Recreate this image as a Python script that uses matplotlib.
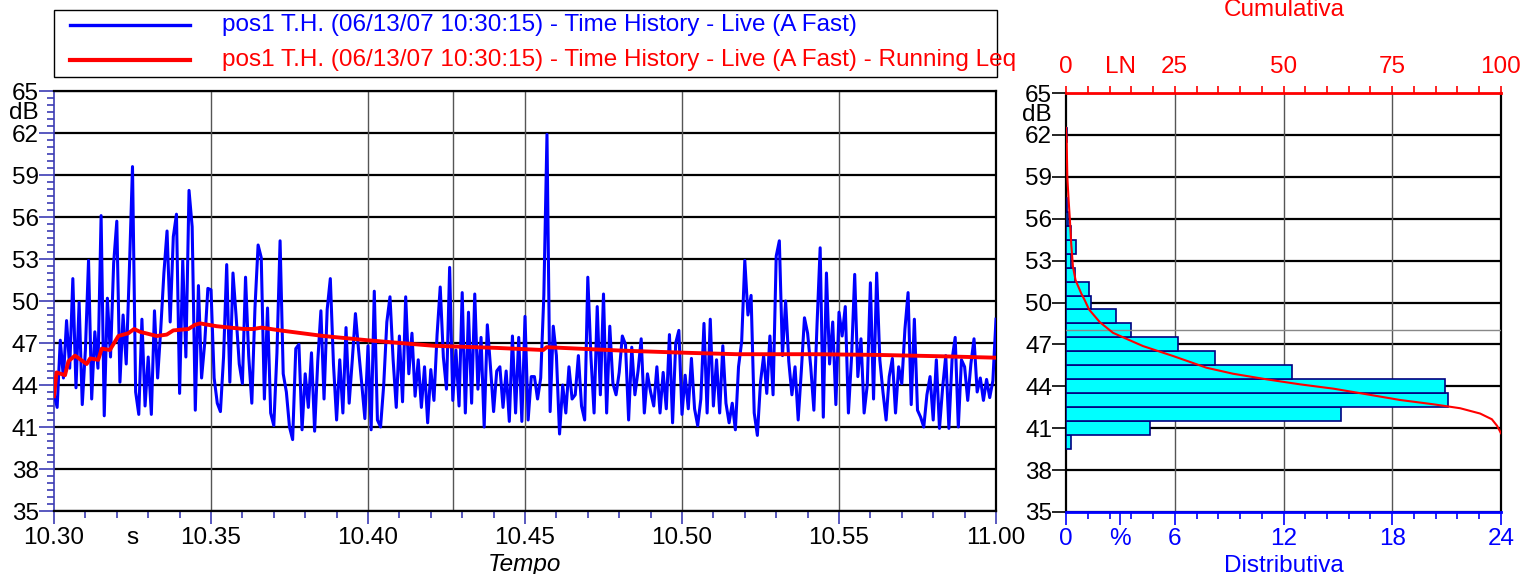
import matplotlib
matplotlib.use('Agg')
import matplotlib.pyplot as plt
from matplotlib.lines import Line2D
from matplotlib.patches import Rectangle
from matplotlib.ticker import MultipleLocator
import numpy as np

plt.rcParams['font.family'] = ['Liberation Sans', 'DejaVu Sans']

# time history (A Fast), one reading every 0.1 s from 10:30 to 11:00
dt = 0.1
level = [
    43.4, 42.4, 47.2, 44.5, 48.6, 45.2, 51.6, 43.8, 49.9, 42.6,
    46.5, 52.9, 43.0, 47.8, 45.2, 56.1, 41.8, 50.2, 46.0, 52.7,
    55.7, 44.2, 49.0, 45.5, 52.2, 59.6, 43.5, 41.9, 48.7, 42.5,
    46.0, 41.9, 49.3, 44.5, 48.0, 52.0, 55.0, 48.5, 54.6, 56.2,
    43.4, 52.9, 46.0, 57.9, 55.3, 42.2, 51.1, 44.5, 47.0, 50.9,
    50.8, 44.5, 42.7, 42.1, 46.0, 52.6, 44.2, 52.0, 48.9, 45.5,
    44.1, 51.7, 46.1, 42.7, 49.5, 54.0, 53.1, 43.0, 49.5, 42.0,
    41.1, 46.3, 54.3, 44.8, 43.5, 41.0, 40.1, 46.6, 46.9, 40.8,
    44.8, 42.4, 46.3, 40.7, 45.7, 49.3, 43.0, 49.4, 51.6, 45.5,
    41.5, 45.8, 42.0, 48.1, 42.7, 45.8, 49.1, 46.5, 44.1, 41.6,
    46.8, 40.8, 50.7, 41.5, 41.0, 44.0, 48.5, 50.3, 45.8, 42.4,
    47.5, 42.8, 50.3, 44.8, 47.7, 43.2, 45.8, 42.4, 45.3, 41.3,
    45.1, 42.9, 47.6, 51.0, 46.0, 43.7, 52.4, 42.9, 46.5, 42.5,
    50.6, 42.0, 49.2, 42.7, 50.5, 43.7, 47.4, 41.0, 48.3, 45.3,
    42.1, 45.0, 45.3, 42.4, 45.0, 41.4, 47.5, 42.0, 47.4, 41.4,
    48.9, 41.5, 44.6, 44.6, 43.0, 44.5, 50.4, 61.9, 42.1, 48.2,
    46.1, 40.5, 44.0, 42.0, 45.3, 43.0, 43.3, 46.1, 42.5, 41.5,
    51.7, 46.0, 42.0, 49.6, 43.3, 50.5, 42.0, 48.2, 44.1, 43.3,
    44.9, 47.5, 46.9, 41.5, 46.7, 43.3, 45.0, 47.3, 42.0, 44.8,
    43.5, 42.5, 45.3, 42.0, 44.9, 42.3, 47.6, 41.3, 47.0, 47.9,
    41.9, 44.7, 42.3, 45.9, 42.3, 41.1, 43.0, 48.4, 42.0, 48.7,
    42.5, 45.8, 42.0, 46.8, 42.7, 41.3, 42.7, 40.8, 45.3, 47.1,
    52.9, 49.0, 50.4, 42.0, 40.4, 44.2, 46.1, 43.4, 47.5, 43.3,
    53.2, 54.3, 46.1, 50.0, 45.7, 43.3, 45.3, 41.5, 45.0, 48.8,
    47.7, 45.3, 42.2, 48.3, 53.8, 41.7, 52.0, 45.5, 48.5, 42.6,
    49.2, 47.5, 49.6, 42.0, 46.0, 51.9, 44.6, 47.3, 42.0, 44.0,
    51.3, 43.0, 52.0, 45.8, 43.5, 41.5, 44.6, 45.9, 42.0, 45.3,
    44.1, 48.0, 50.6, 42.6, 48.7, 42.2, 41.7, 41.0, 43.3, 44.6,
    41.5, 45.8, 40.9, 43.8, 46.1, 40.9, 45.8, 47.4, 41.0, 45.8,
    45.3, 42.9, 45.5, 47.3, 43.5, 44.5, 42.9, 44.4, 43.1, 44.3,
    48.7,
]

# running Leq
leq_t = [0, 0.08, 0.35, 0.46, 0.67, 1.04, 1.15, 1.41, 1.52, 1.78, 2.05, 2.37, 2.55,
         2.74, 3.27, 3.59, 3.8, 4.28, 4.49, 4.65, 5.18, 5.6, 6.05, 6.35, 6.61, 7.2,
         8.58, 9.96, 11.02, 12.1, 14.1, 15.58, 15.69, 18.15, 20.15, 21.74, 24.2,
         26.2, 28.3, 30]
leq_v = [43.2, 44.9, 44.7, 45.7, 46.1, 45.5, 45.9, 45.8, 46.6, 46.5, 47.5, 47.7, 48.0,
         47.8, 47.5, 47.6, 47.9, 48.0, 48.3, 48.4, 48.2, 48.1, 48.0, 48.0, 48.1, 47.9,
         47.5, 47.2, 47.0, 46.8, 46.65, 46.5, 46.7, 46.45, 46.3, 46.2, 46.2,
         46.15, 46.05, 45.95]

# distribution, 1 dB classes (%)
bin_db = [40, 41, 42, 43, 44, 45, 46, 47, 48, 49, 50, 51, 52, 53, 54, 55, 56, 57, 62]
bin_pct = [0.28, 4.66, 15.18, 21.05, 20.89, 12.49, 8.21, 6.19, 3.61, 2.76, 1.36, 1.27,
           0.48, 0.26, 0.55, 0.26, 0.11, 0.07, 0.07]

# cumulative (LN)
cum_pct = [0, 0.15, 0.3, 0.6, 0.9, 1.2, 1.6, 2.2, 3.5, 4.3, 5.3, 7.75, 10.8, 13.9, 17.7,
           24.6, 32.3, 38.4, 46.1, 53.8, 61.5, 69.1, 76.8, 84.5, 90.6, 95.2, 97.9, 99.1, 100]
cum_db = [62.5, 61.65, 59.0, 57.34, 55.9, 54.2, 52.56, 51.6, 50.65, 50.17, 49.5, 48.6,
          47.83, 47.4, 46.88, 46.17, 45.33, 44.9, 44.5, 44.14, 43.83, 43.43, 43.02,
          42.71, 42.43, 42.05, 41.64, 41.17, 40.64]

x_ticks = [0, 2.5, 5, 10, 15, 20, 25, 30]
x_labels = ['10.30', 's', '10.35', '10.40', '10.45', '10.50', '10.55', '11.00']
y_ticks = list(range(35, 66, 3))

W, H = 1537, 574
fig = plt.figure(figsize=(W / 100, H / 100), dpi=100)

def fx(x):
    return x / W

def fy(y):
    return 1 - y / H

tick_blue = '#3c3cb4'
fs = 17.5

# ---- time history
ax = fig.add_axes([fx(54), fy(511), (996 - 54) / W, (511 - 91) / H])
t = np.arange(len(level)) * dt
ax.plot(t, level, color='#0000ff', lw=2.2, zorder=3)
ax.plot(leq_t, leq_v, color='#ff0000', lw=2.8, zorder=4, solid_joinstyle='round')
ax.set_xlim(0, 30)
ax.set_ylim(35, 65)
for v in y_ticks:
    ax.axhline(v, color='black', lw=1.6, zorder=1)
for v in [5, 10, 12.7, 15, 20, 25]:
    ax.axvline(v, color='#555555', lw=1.0, zorder=1)

ax.set_xticks(x_ticks)
ax.set_xticklabels(x_labels)
ax.xaxis.get_major_ticks()[1].tick1line.set_visible(False)
ax.xaxis.set_minor_locator(MultipleLocator(1))
ax.set_yticks(y_ticks)
ax.yaxis.set_minor_locator(MultipleLocator(0.5))
ax.tick_params(axis='x', which='major', length=9.4, width=1.2, color=tick_blue,
               labelsize=fs, pad=2)
ax.tick_params(axis='x', which='minor', length=5, width=1.2, color=tick_blue)
ax.tick_params(axis='y', which='major', length=10.8, width=1.2, color=tick_blue,
               labelsize=fs, pad=0)
ax.tick_params(axis='y', which='minor', length=5, width=1.2, color=tick_blue)
for s in ['top', 'right', 'bottom']:
    ax.spines[s].set_color('black')
    ax.spines[s].set_linewidth(1.6)
ax.spines['left'].set_color(tick_blue)
ax.spines['left'].set_linewidth(1.2)
ax.annotate('dB', xy=(0, 63.45), xycoords=('axes fraction', 'data'), xytext=(-11, 0),
            textcoords='offset points', ha='right', va='center', fontsize=fs)
fig.text(fx(525), fy(565), 'Tempo', ha='center', va='center', fontsize=fs,
         style='italic')

# ---- distribution
ax2 = fig.add_axes([fx(1066), fy(512), (1501 - 1066) / W, (512 - 93) / H])
ax2.barh(bin_db, bin_pct, height=1.0, color='#00ffff', edgecolor='#000080', lw=1.2,
         zorder=3)
ax2.set_xlim(0, 24)
ax2.set_ylim(35, 65)
for v in y_ticks:
    ax2.axhline(v, color='black', lw=1.6, zorder=1)
ax2.axhline(48, color='#888888', lw=1.0, zorder=4)
for v in [6, 12, 18]:
    ax2.axvline(v, color='#555555', lw=1.0, zorder=1)
ax2.set_xticks([0, 3, 6, 12, 18, 24])
ax2.set_xticklabels(['0', '%', '6', '12', '18', '24'])
ax2.xaxis.get_major_ticks()[1].tick1line.set_visible(False)
ax2.xaxis.set_minor_locator(MultipleLocator(1.2))
ax2.set_yticks(y_ticks)
ax2.tick_params(axis='x', which='major', length=9.4, width=1.2, color='#0000ff',
                labelcolor='#0000ff', labelsize=fs, pad=2)
ax2.tick_params(axis='x', which='minor', length=5, width=1.2, color='#0000ff')
ax2.tick_params(axis='y', length=10, width=1.2, color='black', labelsize=fs, pad=0)
ax2.spines['bottom'].set_color('#0000ff')
ax2.spines['bottom'].set_linewidth(2)
ax2.spines['top'].set_visible(False)
for s in ['left', 'right']:
    ax2.spines[s].set_color('black')
    ax2.spines[s].set_linewidth(1.6)
ax2.annotate('dB', xy=(0, 63.4), xycoords=('axes fraction', 'data'), xytext=(-10, 0),
             textcoords='offset points', ha='right', va='center', fontsize=fs)
fig.text(fx(1284), fy(566), 'Distributiva', ha='center', va='center', fontsize=fs,
         color='#0000ff')

ax3 = ax2.twiny()
ax3.plot(cum_pct, cum_db, color='#ff0000', lw=1.5, zorder=5)
ax3.set_xlim(0, 100)
ax3.set_ylim(35, 65)
ax3.set_xticks([0, 12.5, 25, 50, 75, 100])
ax3.set_xticklabels(['0', 'LN', '25', '50', '75', '100'])
ax3.xaxis.get_major_ticks()[1].tick2line.set_visible(False)
ax3.xaxis.set_minor_locator(MultipleLocator(5))
ax3.tick_params(axis='x', which='major', length=5, width=1.2, color='#ff0000',
                labelcolor='#ff0000', labelsize=fs, pad=6)
ax3.tick_params(axis='x', which='minor', length=5, width=1.2, color='#ff0000')
for s in ['left', 'right', 'bottom']:
    ax3.spines[s].set_visible(False)
ax3.spines['top'].set_color('#ff0000')
ax3.spines['top'].set_linewidth(2)
fig.text(fx(1284), fy(10), 'Cumulativa', ha='center', va='center', fontsize=fs,
         color='#ff0000')

# ---- legend
fig.add_artist(Rectangle((fx(54), fy(77)), (997 - 54) / W, (77 - 10) / H,
                         transform=fig.transFigure, fill=False, ec='black', lw=1.0))
fig.add_artist(Line2D([fx(70), fx(190)], [fy(25), fy(25)], color='#0000ff', lw=2.4))
fig.add_artist(Line2D([fx(70), fx(190)], [fy(60), fy(60)], color='#ff0000', lw=3.0))
narrow = ['Liberation Sans Narrow', 'Liberation Sans', 'DejaVu Sans']
lab1 = 'pos1 T.H. (06/13/07 10:30:15) - Time History - Live (A Fast)'
lab2 = lab1 + ' - Running Leq'
txt1 = fig.text(fx(222), fy(25), lab1, color='#0000ff', fontsize=15, family=narrow,
                va='center')
txt2 = fig.text(fx(222), fy(60), lab2, color='#ff0000', fontsize=15, family=narrow,
                va='center')
fig.canvas.draw()
for txt, target in [(txt1, 636), (txt2, 795)]:
    w = txt.get_window_extent().width
    txt.set_fontsize(15 * target / w)

fig.savefig('out.png', dpi=100)
